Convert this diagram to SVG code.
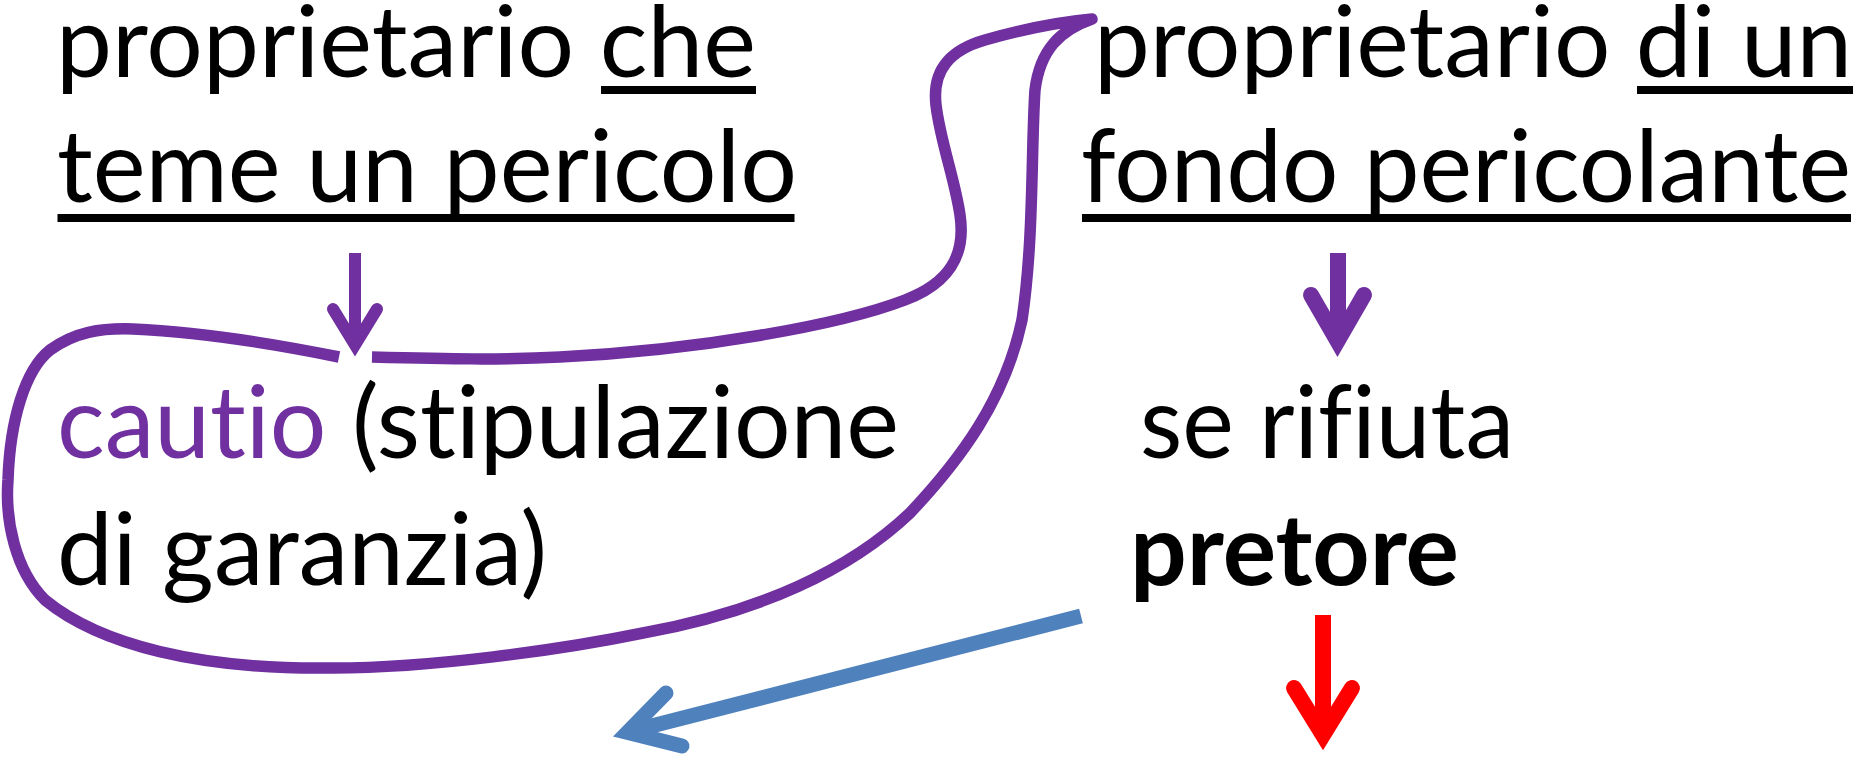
<svg xmlns="http://www.w3.org/2000/svg" width="1863" height="764" viewBox="0 0 1863 764">
<style>
.t{font-family:Lato,"Liberation Sans",sans-serif;font-size:100px;fill:#000;font-variant-ligatures:none;font-feature-settings:"liga" 0,"clig" 0,"dlig" 0}
.top{font-size:99px}
.b{font-weight:bold}
.p{fill:#7030A0}
.ul{fill:#000}
.loop{fill:none;stroke:#7030A0;stroke-width:11.5;stroke-linecap:butt;stroke-linejoin:round}
.shaft{fill:none;stroke-linecap:butt}
.head{fill:none;stroke-linecap:round;stroke-linejoin:miter;stroke-miterlimit:10}
</style>
<rect width="1863" height="764" fill="#fff"/>
<g id="connectors">
  <path class="loop" d="M 372 357 C 450 359 500 360 560 357 C 700 350 840 325 905 300 C 950 283 966 255 960 215 C 955 180 940 140 936 105 C 932 70 950 50 985 40 C 1020 30 1060 22 1092 19 C 1060 30 1040 50 1035 90 C 1031 150 1034 240 1022 320 C 1005 400 960 460 910 513 C 850 570 760 612 643 633 C 560 650 430 668 333 668 C 200 670 100 645 45 600 C 15 570 5 520 8 480 C 10 420 25 370 50 350 C 75 332 100 328 133 329 C 200 332 270 343 339 357"/>
  <g id="arrow1" stroke="#7030A0">
    <line class="shaft" x1="355" y1="253" x2="355" y2="345" stroke-width="12"/>
    <path class="head" d="M 333 309 L 355 345 L 377 309" stroke-width="12"/>
  </g>
  <g id="arrow2" stroke="#7030A0">
    <line class="shaft" x1="1338" y1="253" x2="1338" y2="341" stroke-width="16"/>
    <path class="head" d="M 1311 295 L 1337.5 341 L 1364 295" stroke-width="16"/>
  </g>
  <g id="arrow3" stroke="#FF0000">
    <line class="shaft" x1="1323" y1="615" x2="1323" y2="735" stroke-width="16"/>
    <path class="head" d="M 1294 688 L 1323 735 L 1352 688" stroke-width="16"/>
  </g>
  <g id="arrow4" stroke="#4F81BD">
    <line class="shaft" x1="1081" y1="616" x2="628" y2="732" stroke-width="15"/>
    <path class="head" d="M 666 693 L 627.5 732.3 L 682 746" stroke-width="15"/>
  </g>
</g>
<g id="node-left-top">
  <text class="t top" x="56" y="77" textLength="700" lengthAdjust="spacingAndGlyphs">proprietario che</text>
  <rect class="ul" x="601" y="86" width="155" height="8"/>
  <text class="t" x="57" y="202" textLength="740" lengthAdjust="spacingAndGlyphs">teme un pericolo</text>
  <rect class="ul" x="57.5" y="214" width="737" height="8"/>
</g>
<g id="node-right-top">
  <text class="t top" x="1094" y="77" textLength="758" lengthAdjust="spacingAndGlyphs">proprietario di un</text>
  <rect class="ul" x="1637" y="86" width="216" height="8"/>
  <text class="t" x="1081" y="202" textLength="770" lengthAdjust="spacingAndGlyphs">fondo pericolante</text>
  <rect class="ul" x="1082" y="214" width="769" height="8"/>
</g>
<g id="node-cautio">
  <text class="t" x="57" y="458" textLength="842" lengthAdjust="spacingAndGlyphs"><tspan class="p">cautio</tspan> (stipulazione</text>
  <text class="t" x="57" y="585" textLength="490" lengthAdjust="spacingAndGlyphs">di garanzia)</text>
</g>
<g id="node-rifiuta">
  <text class="t" x="1140" y="458" textLength="374" lengthAdjust="spacingAndGlyphs">se rifiuta</text>
</g>
<g id="node-pretore">
  <text class="t b" x="1130" y="585" textLength="329" lengthAdjust="spacingAndGlyphs">pretore</text>
</g>
</svg>
